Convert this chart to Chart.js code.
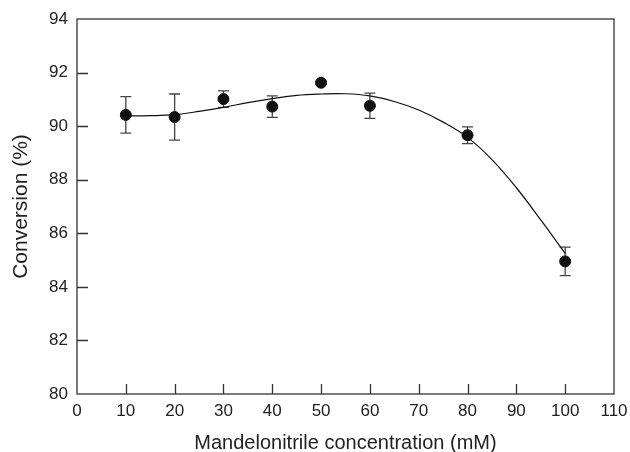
<!DOCTYPE html>
<html>
<head>
<meta charset="utf-8">
<script src="https://cdn.jsdelivr.net/npm/chart.js@4/dist/chart.umd.min.js"></script>
<style>
html,body{margin:0;padding:0;background:#fff;}
#wrap{width:630px;height:452px;}
</style>
</head>
<body>
<div id="wrap"><canvas id="c" width="630" height="452"></canvas></div>
<script>
// Measured data
const concentration = [10, 20, 30, 40, 50, 60, 80, 100];
const conversion = [90.42, 90.34, 91.01, 90.73, 91.62, 90.76, 89.66, 84.95];
const errorBars = [0.68, 0.86, 0.31, 0.40, 0.05, 0.47, 0.31, 0.53];
// Fitted curve
const fitX = [10, 15, 20, 25, 30, 35, 40, 45, 50, 55, 60, 65, 70, 75, 80, 85, 90, 95, 100];
const fitY = [90.38, 90.39, 90.43, 90.55, 90.70, 90.88, 91.03, 91.15, 91.20, 91.21, 91.13, 90.92, 90.60, 90.15, 89.58, 88.75, 87.70, 86.50, 85.25];
// Axis tick labels
const xTicks = [0, 10, 20, 30, 40, 50, 60, 70, 80, 90, 100, 110];
const yTicks = [80, 82, 84, 86, 88, 90, 92, 94];

const FONT = "'Liberation Sans', Arial, Helvetica, sans-serif";
const INK = '#222';

const framePlugin = {
  id: 'frame',
  beforeDatasetsDraw(chart) {
    const ctx = chart.ctx;
    const xs = chart.scales.x, ys = chart.scales.y;
    ctx.save();
    ctx.strokeStyle = '#444';
    ctx.lineWidth = 1.3;
    const cap = 5.5;
    concentration.forEach((xv, i) => {
      const px = xs.getPixelForValue(xv);
      const top = ys.getPixelForValue(conversion[i] + errorBars[i]);
      const bot = ys.getPixelForValue(conversion[i] - errorBars[i]);
      ctx.beginPath();
      ctx.moveTo(px, top); ctx.lineTo(px, bot);
      ctx.moveTo(px - cap, top); ctx.lineTo(px + cap, top);
      ctx.moveTo(px - cap, bot); ctx.lineTo(px + cap, bot);
      ctx.stroke();
    });
    ctx.restore();
  },
  afterDraw(chart) {
    const ctx = chart.ctx;
    const a = chart.chartArea;
    const xs = chart.scales.x, ys = chart.scales.y;
    ctx.save();
    ctx.strokeStyle = '#333';
    ctx.lineWidth = 1.3;
    ctx.strokeRect(a.left, a.top, a.right - a.left, a.bottom - a.top);
    ctx.beginPath();
    xTicks.forEach(v => {
      if (v === xs.min || v === xs.max) return;
      const px = Math.round(xs.getPixelForValue(v)) + 0.5;
      ctx.moveTo(px, a.bottom); ctx.lineTo(px, a.bottom - 10);
    });
    yTicks.forEach(v => {
      if (v === ys.min || v === ys.max) return;
      const py = Math.round(ys.getPixelForValue(v)) + 0.5;
      ctx.moveTo(a.left, py); ctx.lineTo(a.left + 11, py);
    });
    ctx.stroke();
    ctx.restore();
  }
};

new Chart(document.getElementById('c'), {
  type: 'scatter',
  data: {
    datasets: [
      {
        label: 'Fit',
        type: 'line',
        data: fitX.map((x, i) => ({x: x, y: fitY[i]})),
        borderColor: '#111',
        borderWidth: 1.2,
        pointRadius: 0,
        tension: 0.4,
        fill: false,
        order: 2
      },
      {
        label: 'Conversion',
        data: concentration.map((x, i) => ({x: x, y: conversion[i]})),
        backgroundColor: '#111',
        borderColor: '#111',
        pointRadius: 5.5,
        pointHoverRadius: 5.5,
        order: 1
      }
    ]
  },
  options: {
    responsive: false,
    devicePixelRatio: 1,
    animation: false,
    layout: { padding: { top: 19, right: 16, left: 0, bottom: 0 } },
    plugins: { legend: { display: false }, tooltip: { enabled: false } },
    scales: {
      x: {
        type: 'linear',
        min: 0, max: 110,
        afterBuildTicks(s) { s.ticks = xTicks.map(v => ({value: v})); },
        afterFit(s) { s.height = 58; s.paddingLeft = 0; s.paddingRight = 0; },
        grid: { display: false, drawTicks: false, tickLength: 0 },
        border: { display: false },
        ticks: { color: INK, padding: 7, maxRotation: 0, font: { family: FONT, size: 17 } },
        title: { display: true, text: 'Mandelonitrile concentration (mM)', color: INK,
                 font: { family: FONT, size: 20, lineHeight: 0.85 }, padding: { top: 0, bottom: 0 } }
      },
      y: {
        type: 'linear',
        min: 80, max: 94,
        afterBuildTicks(s) { s.ticks = yTicks.map(v => ({value: v})); },
        afterFit(s) { s.width = 77; s.paddingTop = 0; s.paddingBottom = 0; },
        grid: { display: false, drawTicks: false, tickLength: 0 },
        border: { display: false },
        ticks: { color: INK, padding: 9, font: { family: FONT, size: 17 } },
        title: { display: true, text: 'Conversion (%)', color: INK,
                 font: { family: FONT, size: 21 }, padding: { top: 9, bottom: 0 } }
      }
    }
  },
  plugins: [framePlugin]
});
</script>
</body>
</html>
